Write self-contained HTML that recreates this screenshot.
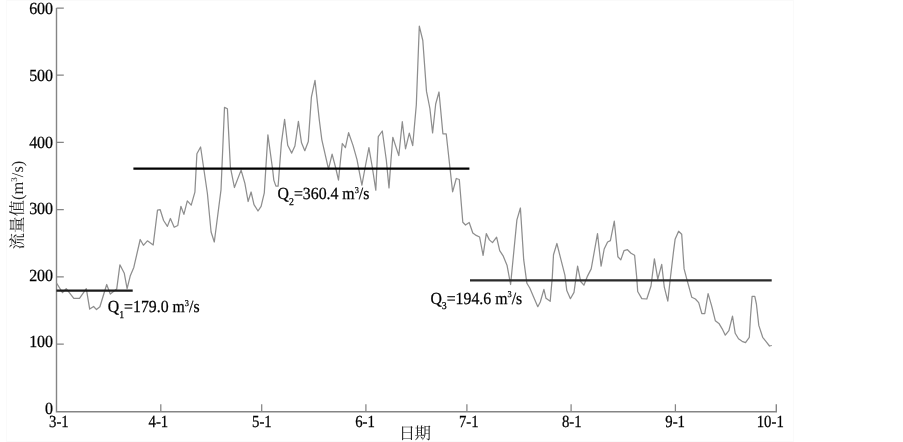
<!DOCTYPE html>
<html><head><meta charset="utf-8"><title>流量值</title>
<style>
html,body{margin:0;padding:0;background:#fff;}
text{text-rendering:geometricPrecision;}
body{width:903px;height:442px;overflow:hidden;}
svg{display:block;will-change:transform;}
.n{font-family:"Liberation Serif","Noto Serif CJK SC",serif;font-size:17px;fill:#000;stroke:#000;stroke-width:0.25px;}
.n2{font-family:"Liberation Serif","Noto Serif CJK SC",serif;}
.c{font-family:"Liberation Serif","Noto Serif CJK SC",serif;font-size:16.5px;fill:#222;}
</style></head><body>
<svg width="903" height="442" viewBox="0 0 903 442">
<rect x="6.5" y="0.5" width="787" height="441" fill="none" stroke="#fafafa" stroke-width="1"/>
<path d="M56.5 8 V411.7 H776.3 V404.2" fill="none" stroke="#858585" stroke-width="1.4"/>
<path d="M56.5 344.0 H63.8 M56.5 276.8 H63.8 M56.5 209.6 H63.8 M56.5 142.4 H63.8 M56.5 75.2 H63.8 M56.5 8.0 H63.8 M160.8 411.7 V404.2 M261.7 411.7 V404.2 M365.9 411.7 V404.2 M466.9 411.7 V404.2 M571.1 411.7 V404.2 M675.4 411.7 V404.2" fill="none" stroke="#858585" stroke-width="1.25"/>
<text transform="translate(53.1 413.9) scale(0.94 1.0)" text-anchor="end" class="n">0</text>
<text transform="translate(53.1 347.3) scale(0.94 1.0)" text-anchor="end" class="n">100</text>
<text transform="translate(53.1 280.7) scale(0.94 1.0)" text-anchor="end" class="n">200</text>
<text transform="translate(53.1 214.1) scale(0.94 1.0)" text-anchor="end" class="n">300</text>
<text transform="translate(53.1 147.5) scale(0.94 1.0)" text-anchor="end" class="n">400</text>
<text transform="translate(53.1 80.9) scale(0.94 1.0)" text-anchor="end" class="n">500</text>
<text transform="translate(53.1 14.3) scale(0.94 1.0)" text-anchor="end" class="n">600</text>
<text transform="translate(58.90 426.8) scale(0.87 1)" text-anchor="middle" class="n">3-1</text>
<text transform="translate(158.35 426.8) scale(0.87 1)" text-anchor="middle" class="n">4-1</text>
<text transform="translate(261.85 426.8) scale(0.87 1)" text-anchor="middle" class="n">5-1</text>
<text transform="translate(365.00 426.8) scale(0.87 1)" text-anchor="middle" class="n">6-1</text>
<text transform="translate(468.75 426.8) scale(0.87 1)" text-anchor="middle" class="n">7-1</text>
<text transform="translate(571.80 426.8) scale(0.87 1)" text-anchor="middle" class="n">8-1</text>
<text transform="translate(675.10 426.8) scale(0.87 1)" text-anchor="middle" class="n">9-1</text>
<text transform="translate(770.25 426.8) scale(0.87 1)" text-anchor="middle" class="n">10-1</text>
<polyline points="56.5,283.0 62.5,292.6 66.2,288.7 73.8,298.3 79.5,298.3 86.3,288.7 89.7,309.1 93.6,306.5 96.5,309.6 99.9,306.8 106.7,284.5 110.3,294.1 116.7,289.1 119.9,264.8 124.3,273.3 127.1,288.7 130.2,276.1 133.8,267.4 140.2,239.5 143.4,245.3 147.4,240.8 153.2,245.0 157.5,210.1 160.2,209.7 163.6,220.5 167.4,226.4 170.4,218.5 174.2,227.3 177.8,225.5 180.9,206.3 183.9,214.4 187.3,200.9 191.2,205.2 194.9,192.2 196.9,153.7 200.6,147.0 207.4,193.5 211.1,232.0 214.3,242.0 221.0,189.8 224.5,107.4 227.4,108.7 230.4,167.1 234.4,187.5 241.1,170.1 244.9,183.3 248.1,201.5 251.1,192.0 254.0,204.7 258.0,211.0 261.1,206.3 264.3,192.8 267.9,134.9 272.7,170.0 273.8,180.1 275.9,186.1 278.1,186.1 281.4,142.8 284.6,119.3 287.7,145.2 291.7,153.1 294.9,146.0 298.4,121.4 301.5,142.8 304.8,150.7 308.3,141.5 311.4,97.1 315.0,80.4 319.3,120.0 321.8,139.6 328.5,169.1 332.1,154.1 335.6,167.5 338.5,180.2 340.4,161.2 342.3,143.5 345.4,147.7 348.6,132.7 353.0,145.4 357.0,159.6 359.7,173.9 361.9,185.1 365.4,166.0 368.9,147.7 372.1,166.0 375.8,190.2 378.3,136.6 382.3,131.0 386.3,160.0 389.0,187.9 391.0,160.0 392.8,137.3 398.8,155.6 402.3,121.7 405.5,148.8 409.3,133.2 412.7,145.6 416.3,105.0 419.3,26.2 422.8,40.5 426.5,91.4 429.9,108.5 432.6,132.9 435.7,104.0 439.0,92.0 442.9,133.8 446.2,133.8 452.6,191.8 456.3,178.5 459.3,179.5 462.8,222.3 465.5,225.0 469.2,222.5 472.8,233.0 476.2,235.4 479.6,237.0 483.1,255.3 486.3,233.6 489.4,239.9 492.5,242.6 496.6,237.2 499.7,250.7 503.3,256.2 507.0,265.2 510.6,284.5 516.9,219.9 520.4,208.0 523.7,259.7 526.9,283.3 529.9,288.3 533.6,297.0 537.8,306.7 540.3,302.0 543.9,289.3 546.0,298.3 550.2,301.3 552.3,277.1 553.5,254.7 556.9,243.5 561.2,260.7 564.9,275.2 566.8,290.6 570.4,298.7 574.0,292.4 577.6,266.2 580.7,281.5 583.9,285.2 587.5,276.1 591.2,268.9 597.5,233.6 601.1,266.2 604.2,249.0 607.6,242.0 610.4,240.6 614.3,221.2 617.9,256.8 620.8,259.9 624.0,250.7 627.5,249.7 631.0,253.2 634.6,255.2 636.7,277.2 637.7,291.5 641.8,298.6 646.8,299.0 651.0,286.0 654.4,258.8 657.8,279.1 661.7,264.4 664.3,287.2 667.8,301.1 670.5,277.0 673.5,251.6 675.1,239.3 678.6,231.2 681.7,234.3 684.1,268.9 686.8,279.1 691.8,297.3 695.4,299.0 698.7,302.6 701.8,313.5 704.8,313.5 708.1,293.6 711.7,306.2 715.3,320.7 718.9,323.4 722.2,328.8 725.3,335.2 728.9,330.6 732.5,316.2 735.2,333.3 738.5,338.8 742.1,341.3 745.5,342.6 749.3,337.3 750.5,316.7 752.1,296.4 754.8,296.4 756.4,304.0 758.8,325.4 762.7,337.3 765.9,341.3 769.5,346.0 771.8,345.5" fill="none" stroke="#8e8e8e" stroke-width="1.25" stroke-linejoin="round"/>
<path d="M56.5 290.6 H132.7" fill="none" stroke="#1a1a1a" stroke-width="2.3"/>
<path d="M133.4 168.7 H469.4" fill="none" stroke="#000" stroke-width="2.2"/>
<path d="M470 280.3 H771.7" fill="none" stroke="#2a2a2a" stroke-width="2.2"/>
<text transform="translate(107.8 312.0) scale(0.93 1)" class="n">Q<tspan dy="5.7" font-size="10.5">1</tspan><tspan dy="-5.7">=179.0 </tspan><tspan>m</tspan><tspan dy="-6.5" font-size="9">3</tspan><tspan dy="6.5">/s</tspan></text>
<text transform="translate(277.6 199.1) scale(0.93 1)" class="n">Q<tspan dy="5.7" font-size="10.5">2</tspan><tspan dy="-5.7">=360.4 </tspan><tspan>m</tspan><tspan dy="-6.5" font-size="9">3</tspan><tspan dy="6.5">/s</tspan></text>
<text transform="translate(430.4 303.5) scale(0.93 1)" class="n">Q<tspan dy="5.7" font-size="10.5">3</tspan><tspan dy="-5.7">=194.6 </tspan><tspan>m</tspan><tspan dy="-6.5" font-size="9">3</tspan><tspan dy="6.5">/s</tspan></text>
<text x="398.8" y="439" class="c" letter-spacing="-0.7">日期</text>
<text transform="translate(23.4 249.5) rotate(-90)" class="c">流量值<tspan class="n2">(m</tspan><tspan class="n2" dy="-6.5" font-size="9">3</tspan><tspan class="n2" dy="6.5">/s)</tspan></text>
</svg>
</body></html>
